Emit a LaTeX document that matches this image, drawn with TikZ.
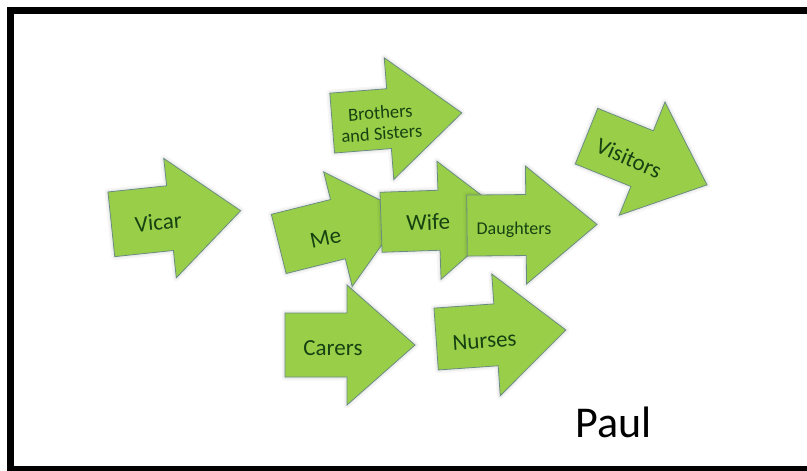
\documentclass[tikz,border=0pt]{standalone}
\usepackage{fontspec}
\setmainfont{Carlito}
\definecolor{arrfill}{RGB}{153,207,72}
\definecolor{arrline}{RGB}{105,140,130}
\definecolor{txtgreen}{RGB}{22,66,18}
% #1 cx, #2 cy, #3 angle, #4 head base (local x), #5 shaft half height, #6 head half height
\newcommand\grarrow[6]{%
  \draw[arrshape, shift={(#1,#2)}, rotate=#3]
    (-65,-#5) -- (#4,-#5) -- (#4,-#6) -- (65,0) -- (#4,#6) -- (#4,#5) -- (-65,#5) -- cycle;}
\begin{document}
\begin{tikzpicture}[x=1pt,y=-1pt,
  arrshape/.style={fill=arrfill, draw=arrline, line width=0.8pt, line join=miter,
    preaction={draw=black, draw opacity=0.035, line width=7pt, line join=round},
    preaction={draw=black, draw opacity=0.04, line width=3.5pt, line join=round}},
  lbl/.style={text=txtgreen, font=\fontsize{23}{27}\selectfont, inner sep=0pt, anchor=base},
  lblsmall/.style={text=txtgreen, font=\fontsize{18.5}{21}\selectfont, inner sep=0pt, align=center},
  frame/.style={draw=black, line width=7pt}]
\useasboundingbox (0,0) rectangle (807,471);
\clip (0,0) rectangle (807,471);
\fill[white] (0,0) rectangle (807,471);
\draw[frame] (10.5,10.5) rectangle (812,469.5);

% arrows (back to front)
\grarrow{176}{217.5}{6}{-6}{32.5}{60}
\grarrow{397}{118}{4.5}{-8}{30}{61}
\grarrow{646.75}{160.5}{-22}{-5}{30}{61}
\grarrow{350}{345}{0}{-3}{32}{60}
\grarrow{501}{334.5}{4}{-5}{31}{61}
\grarrow{341.8}{228.2}{14}{-4}{30.5}{59}
\grarrow{446}{220}{2}{-7}{30}{59}
\grarrow{532}{225}{0.5}{-6}{30.5}{59}

% labels
\node[lbl, rotate=5] (vicar) at (159,230) {Vicar};
\node[lblsmall, rotate=4] (bros) at (381,123) {Brothers\\and Sisters};
\node[lbl, anchor=center, rotate=-24] (visitors) at (629,158) {Visitors};
\node[lbl] (carers) at (333,355) {Carers};
\node[lbl, rotate=4] (nurses) at (485,348) {Nurses};
\node[lbl, rotate=12] (me) at (327,245) {Me};
\node[lbl, rotate=2] (wife) at (428.5,230) {Wife};
\node[lbl, font=\fontsize{18}{21}\selectfont] (daughters) at (514,234) {Daughters};
\node[inner sep=0pt, anchor=base, font=\fontsize{44}{50}\selectfont, text=black] (paul) at (613.5,437) {Paul};
\end{tikzpicture}
\end{document}
